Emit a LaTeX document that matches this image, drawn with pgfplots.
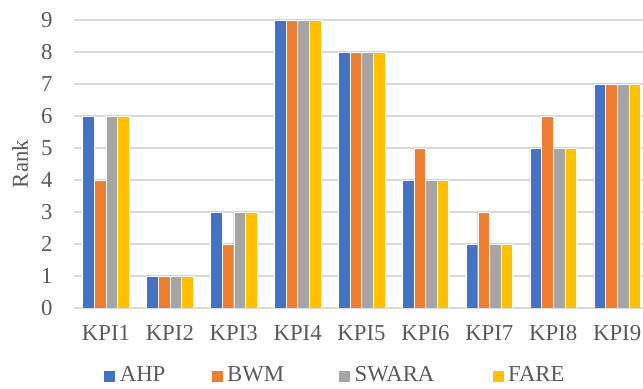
\documentclass[border=0pt]{standalone}
\usepackage{pgfplots}
\pgfplotsset{compat=1.18}
\usepackage{fontspec}
\setmainfont{Liberation Serif}
\definecolor{cAHP}{HTML}{4472C4}
\definecolor{cBWM}{HTML}{ED7D31}
\definecolor{cSWARA}{HTML}{A5A5A5}
\definecolor{cFARE}{HTML}{FFC000}
\definecolor{txt}{HTML}{595959}
\definecolor{grd}{HTML}{D9D9D9}
\begin{document}
\begin{tikzpicture}
\begin{axis}[
  name=ax,
  scale only axis,
  width=284.5pt, height=144pt,
  ymin=0, ymax=9,
  xmin=-0.5, xmax=8.405,
  ybar=0pt, bar width=0.182,
  ytick={0,1,...,9},
  xtick={0,...,8},
  xticklabels={KPI1,KPI2,KPI3,KPI4,KPI5,KPI6,KPI7,KPI8,KPI9},
  /pgf/number format/assume math mode=true,
  ymajorgrids, grid style={grd, line width=0.9pt},
  axis line style={draw=none},
  major tick length=0pt,
  tick style={draw=none},
  font=\fontsize{11.4}{13}\selectfont,
  ticklabel style={text=txt, font=\fontsize{11.4}{13}\selectfont},
  yticklabel style={inner sep=0pt, xshift=-10.5pt},
  xticklabel style={inner sep=0pt, yshift=-8.5pt},
  ylabel={Rank},
  ylabel style={at={(axis description cs:-0.0949,0.5)}, anchor=center, text=txt},
  legend columns=4,
  legend style={draw=none, fill=none, inner sep=0pt, at={(axis description cs:0.051,-0.236)}, anchor=west, text=txt, font=\fontsize{11.4}{13}\selectfont,
    /tikz/every even column/.append style={column sep=0pt}},
  legend image code/.code={\fill[#1] (0pt,-3pt) rectangle (6pt,3pt);},
]
\addplot[fill=cAHP, draw=white, line width=0.2pt] coordinates {(0,6) (1,1) (2,3) (3,9) (4,8) (5,4) (6,2) (7,5) (8,7)};
\addplot[fill=cBWM, draw=white, line width=0.2pt] coordinates {(0,4) (1,1) (2,2) (3,9) (4,8) (5,5) (6,3) (7,6) (8,7)};
\addplot[fill=cSWARA, draw=white, line width=0.2pt] coordinates {(0,6) (1,1) (2,3) (3,9) (4,8) (5,4) (6,2) (7,5) (8,7)};
\addplot[fill=cFARE, draw=white, line width=0.2pt] coordinates {(0,6) (1,1) (2,3) (3,9) (4,8) (5,4) (6,2) (7,5) (8,7)};
\addlegendentry{\makebox[43.5pt][l]{AHP}}
\addlegendentry{\makebox[53.5pt][l]{BWM}}
\addlegendentry{\makebox[66.5pt][l]{SWARA}}
\addlegendentry{FARE}
\end{axis}
\pgfresetboundingbox
\path ([xshift=-37pt,yshift=-40.5pt]ax.south west) rectangle ([yshift=10pt]ax.north east);
\end{tikzpicture}
\end{document}
